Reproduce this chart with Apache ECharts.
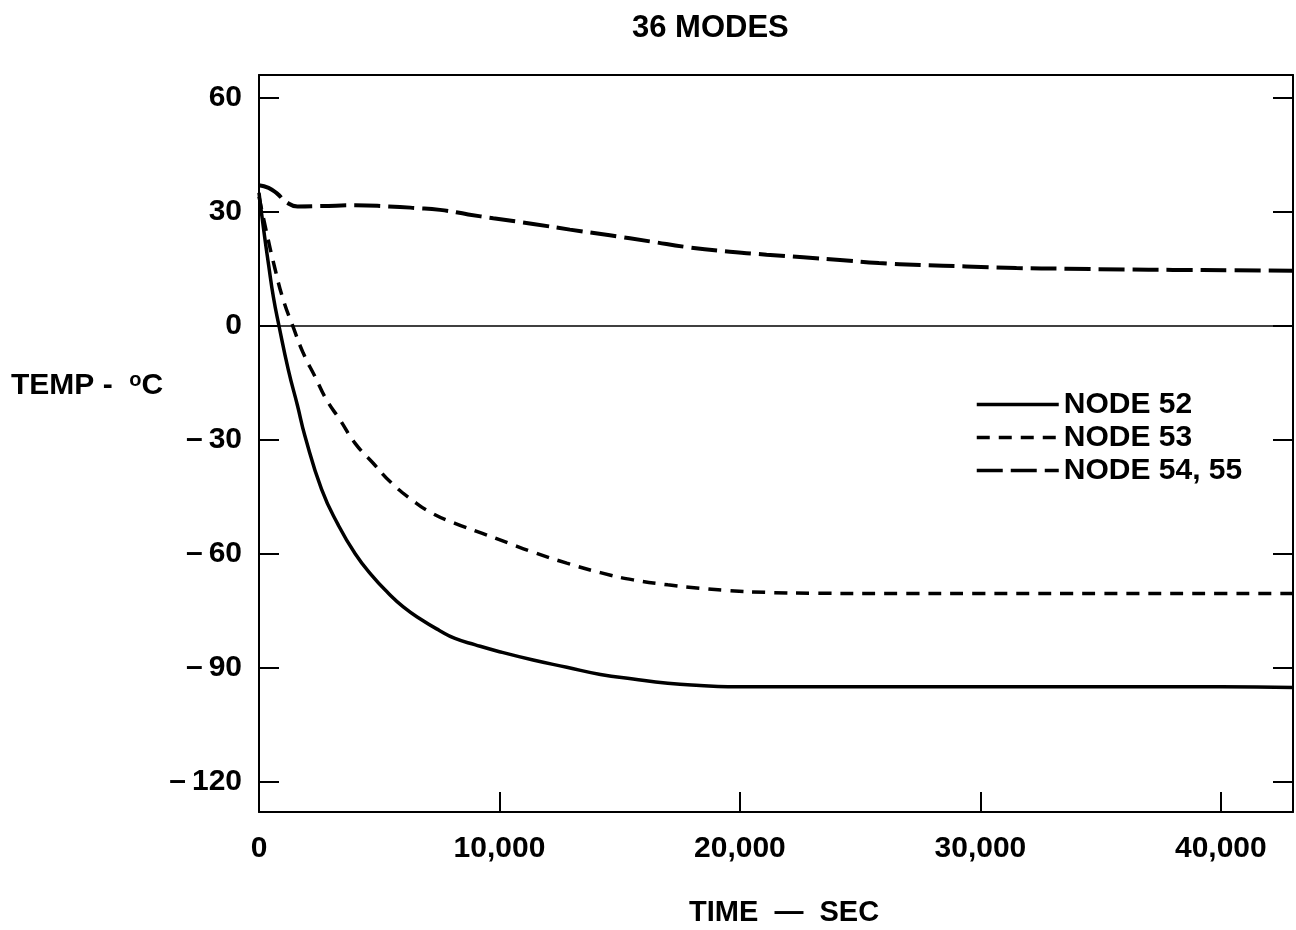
<!DOCTYPE html>
<html>
<head>
<meta charset="utf-8">
<title>36 MODES</title>
<script src="https://cdn.jsdelivr.net/npm/echarts@6/dist/echarts.min.js"></script>
<style>
	html, body { margin: 0; padding: 0; background: #fff; }
	#main { width: 1296px; height: 930px; }
</style>
</head>
<body>
<div id="main"></div>
<script>
// 时间 (sec) 与温度 (°C)
var t52 = [0, 200, 400, 600, 830, 1220, 1600, 1910, 2600, 3300, 4000, 4700, 5380, 6000, 6760, 7500, 8150, 9000, 10000, 11400, 12800, 14200, 15560, 17000, 18340, 19500, 21000, 25000, 30000, 35000, 40000, 43000];
var v52 = [35, 25, 16, 7.5, 0, -11.6, -21, -29, -43, -52.5, -60, -65.8, -70.4, -74, -77.4, -80.2, -82.3, -84, -85.8, -88, -89.9, -91.8, -93, -94.1, -94.7, -95, -95, -95, -95, -95, -95, -95.2];

var t53 = [0, 300, 665, 1000, 1400, 1840, 2330, 2810, 3370, 3990, 4750, 5510, 6350, 7180, 8150, 9260, 10370, 11400, 12800, 14200, 15560, 17000, 18340, 19500, 21110, 23000, 26650, 30000, 35000, 40000, 43000];
var v53 = [34, 25, 15, 7, 0, -7.2, -13.4, -19.5, -24.8, -30.9, -36.2, -41.4, -45.8, -49.3, -52, -54.6, -57.2, -59.6, -62.5, -65, -66.9, -68.2, -69.1, -69.7, -70.2, -70.4, -70.5, -70.5, -70.5, -70.5, -70.5];

var t54 = [0, 400, 735, 1150, 1600, 2600, 4000, 5400, 6500, 7530, 8700, 9740, 11400, 12930, 14590, 16260, 17920, 19580, 21110, 22630, 24160, 25780, 27500, 29400, 31500, 33560, 36000, 38000, 40500, 43000];
var v54 = [37, 36.3, 34.9, 32.5, 31.4, 31.5, 31.7, 31.4, 31, 30.5, 29.3, 28.3, 26.8, 25.3, 23.8, 22.2, 20.6, 19.5, 18.7, 18, 17.3, 16.5, 16, 15.6, 15.2, 15, 14.8, 14.7, 14.6, 14.5];

var yTicks = [-120, -90, -60, -30, 0, 30, 60];
var seriesNames = ['NODE 52', 'NODE 53', 'NODE 54, 55'];

var FONT = "'Liberation Sans', Arial, Helvetica, sans-serif";

function pairs(ts, vs) {
	var out = [];
	for (var i = 0; i < ts.length; i++) {
		out.push([ts[i], vs[i]]);
	}
	return out;
}

var chart = echarts.init(document.getElementById('main'));

// 边框线
var axisLine = {show: true, onZero: false, lineStyle: {color: '#000', width: 2}};
var tickStyle = {color: '#000', width: 2};

var option = {
	animation: false,
	backgroundColor: '#fff',
	title: {
		text: '36 MODES',
		left: 627,
		top: 8,
		textStyle: {fontFamily: FONT, fontSize: 31, fontWeight: 'bold', color: '#000'}
	},
	grid: {left: 259, right: 3, top: 75, bottom: 118},
	legend: {
		show: true,
		orient: 'vertical',
		left: 970,
		top: 383,
		itemWidth: 82,
		itemHeight: 14,
		itemGap: 0,
		data: seriesNames,
		itemStyle: {opacity: 0},// 不显示图例中的圆点
		lineStyle: {width: 3.5},
		textStyle: {fontFamily: FONT, fontSize: 30, fontWeight: 'bold', color: '#000', lineHeight: 33}
	},
	xAxis: [{
		type: 'value',
		position: 'bottom',
		min: 0,
		max: 43000,
		interval: 10000,
		axisLine: axisLine,
		axisTick: {show: true, inside: true, length: 20, lineStyle: tickStyle},
		axisLabel: {
			margin: 22,
			color: '#000',
			fontFamily: FONT,
			fontSize: 30,
			fontWeight: 'bold',
			showMaxLabel: false,
			formatter: function (v) {
				return v.toLocaleString('en-US');
			}
		},
		splitLine: {show: false}
	}, {
		type: 'value',
		position: 'top',
		min: 0,
		max: 43000,
		axisLine: axisLine,
		axisTick: {show: false},
		axisLabel: {show: false},
		splitLine: {show: false}
	}],
	yAxis: [{
		type: 'value',
		position: 'left',
		min: -128,
		max: 66,
		axisLine: axisLine,
		axisTick: {show: true, inside: true, length: 20, customValues: yTicks, lineStyle: tickStyle},
		axisLabel: {
			margin: 17,
			color: '#000',
			fontFamily: FONT,
			fontSize: 30,
			fontWeight: 'bold',
			customValues: yTicks,
			formatter: function (v) {
				return v < 0 ? '\u2013\u2009' + Math.abs(v) : String(v);
			}
		},
		splitLine: {show: false}
	}, {
		type: 'value',
		position: 'right',
		min: -128,
		max: 66,
		axisLine: axisLine,
		axisTick: {show: true, inside: true, length: 20, customValues: yTicks, lineStyle: tickStyle},
		axisLabel: {show: false},
		splitLine: {show: false}
	}],
	graphic: [{
		type: 'text',
		left: 11,
		top: 370,
		style: {
			text: 'TEMP -  {s|o}C',
			fontFamily: FONT,
			fontSize: 30,
			fontWeight: 'bold',
			fill: '#000',
			rich: {
				s: {fontFamily: FONT, fontSize: 20, fontWeight: 'bold', verticalAlign: 'top', padding: [0, 0, 12, 0]}
			}
		}
	}, {
		type: 'text',
		left: 689,
		top: 898,
		style: {text: 'TIME  \u2014  SEC', fontFamily: FONT, fontSize: 29, fontWeight: 'bold', fill: '#000'}
	}],
	series: [{
		name: seriesNames[0],
		type: 'line',
		data: pairs(t52, v52),
		showSymbol: false,
		symbol: 'none',
		smooth: 0.5,
		lineStyle: {color: '#000', width: 3.5, type: 'solid'},
		itemStyle: {color: '#000'},
		markLine: {
			silent: true,
			symbol: 'none',
			label: {show: false},
			lineStyle: {color: '#000', width: 1.5, type: 'solid'},
			data: [{yAxis: 0}]
		}
	}, {
		name: seriesNames[1],
		type: 'line',
		data: pairs(t53, v53),
		showSymbol: false,
		symbol: 'none',
		smooth: 0.5,
		lineStyle: {color: '#000', width: 3.5, type: [13, 9]},
		itemStyle: {color: '#000'}
	}, {
		name: seriesNames[2],
		type: 'line',
		data: pairs(t54, v54),
		showSymbol: false,
		symbol: 'none',
		smooth: 0.5,
		lineStyle: {color: '#000', width: 4, type: [26, 8]},
		itemStyle: {color: '#000'}
	}]
};

chart.setOption(option);
</script>
</body>
</html>
